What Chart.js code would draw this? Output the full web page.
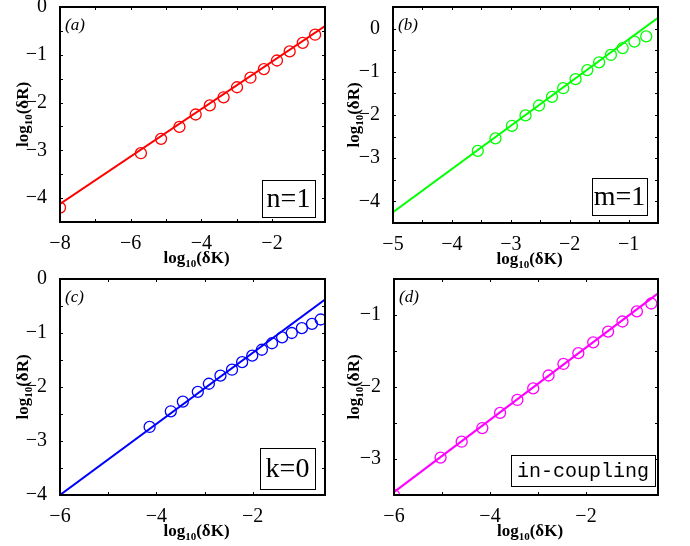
<!DOCTYPE html>
<html>
<head>
<meta charset="utf-8">
<script src="https://cdn.jsdelivr.net/npm/chart.js@4"></script>
<style>
  html, body { margin: 0; padding: 0; background: #fff; }
  #wrap { position: relative; width: 690px; height: 546px; overflow: hidden; }
  .panel { position: absolute; width: 345px; height: 290px; }
</style>
</head>
<body>
<div id="wrap">
  <div class="panel" style="left:0;top:-17px"><canvas id="chartA"></canvas></div>
  <div class="panel" style="left:345px;top:-17px"><canvas id="chartB"></canvas></div>
  <div class="panel" style="left:0;top:256px"><canvas id="chartC"></canvas></div>
  <div class="panel" style="left:345px;top:256px"><canvas id="chartD"></canvas></div>
</div>
<script>
// --- Du lieu doc tu hinh (log10 dK, log10 dR) ---
// (a) n=1
const aX = [-8.0, -5.71, -5.14, -4.62, -4.16, -3.76, -3.37, -2.99, -2.61, -2.23, -1.86, -1.50, -1.13, -0.78];
const aY = [-4.20, -3.06, -2.76, -2.51, -2.25, -2.06, -1.89, -1.68, -1.48, -1.30, -1.12, -0.93, -0.75, -0.58];
const aFitX = [-8.0, -0.5];
const aFitY = [-4.12, -0.40];

// (b) m=1
const bX = [-3.56, -3.26, -2.98, -2.75, -2.52, -2.30, -2.11, -1.90, -1.70, -1.50, -1.30, -1.10, -0.90, -0.70];
const bY = [-2.83, -2.54, -2.25, -2.01, -1.78, -1.58, -1.38, -1.17, -0.96, -0.78, -0.61, -0.45, -0.30, -0.18];
const bFitX = [-5.0, -0.5];
const bFitY = [-4.25, 0.25];

// (c) k=0
const cX = [-4.14, -3.70, -3.45, -3.14, -2.91, -2.67, -2.43, -2.22, -2.01, -1.81, -1.60, -1.39, -1.19, -0.98, -0.77, -0.59];
const cY = [-2.74, -2.45, -2.27, -2.09, -1.94, -1.79, -1.68, -1.54, -1.42, -1.31, -1.19, -1.08, -1.00, -0.91, -0.83, -0.75];
const cFitX = [-6.0, -0.5];
const cFitY = [-4.0, -0.38];

// (d) in-coupling
const dX = [-6.0, -5.03, -4.59, -4.16, -3.79, -3.43, -3.10, -2.78, -2.47, -2.16, -1.85, -1.54, -1.24, -0.94, -0.64];
const dY = [-3.50, -2.98, -2.76, -2.57, -2.36, -2.18, -2.02, -1.84, -1.68, -1.53, -1.38, -1.23, -1.09, -0.95, -0.84];
const dFitX = [-6.0, -0.5];
const dFitY = [-3.46, -0.70];

const SERIF = "'Liberation Serif', 'Times New Roman', serif";
const TOP_EXTRA = 17; // canvas cao hon de nhan "0" khong bi cat

function pts(xs, ys) {
    return xs.map(function (x, i) { return { x: x, y: ys[i] }; });
}

function minusLabel(v) {
    if (v === 0) return '0';
    return (v < 0 ? '\u2212' : '') + Math.abs(v);
}

// --- Plugin: khung, vach chia huong vao trong, chu thich ---
const framePlugin = {
    id: 'frame',
    afterDatasetsDraw: function (chart, args, o) {
        const ctx = chart.ctx;
        const a = chart.chartArea;
        ctx.save();
        // vach chia
        ctx.strokeStyle = '#000';
        ctx.lineWidth = 1;
        const tl = 3;
        chart.scales.x.ticks.forEach(function (t) {
            const px = Math.round(chart.scales.x.getPixelForValue(t.value)) + 0.5;
            if (px <= a.left + 2 || px >= a.right - 2) return;
            ctx.beginPath();
            ctx.moveTo(px, a.bottom); ctx.lineTo(px, a.bottom - tl);
            ctx.moveTo(px, a.top); ctx.lineTo(px, a.top + tl);
            ctx.stroke();
        });
        chart.scales.y.ticks.forEach(function (t) {
            const py = Math.round(chart.scales.y.getPixelForValue(t.value)) + 0.5;
            if (py <= a.top + 2 || py >= a.bottom - 2) return;
            ctx.beginPath();
            ctx.moveTo(a.left, py); ctx.lineTo(a.left + tl, py);
            ctx.moveTo(a.right, py); ctx.lineTo(a.right - tl, py);
            ctx.stroke();
        });
        // khung
        ctx.lineWidth = 2;
        ctx.strokeRect(a.left, a.top, a.right - a.left, a.bottom - a.top);

        // nhan (a), (b)...
        ctx.fillStyle = '#000';
        ctx.font = 'italic 17px ' + SERIF;
        ctx.textAlign = 'left';
        ctx.textBaseline = 'middle';
        ctx.fillText(o.tag, a.left + 5, a.top + 19);

        // hop chu thich
        const bx = a.right - o.boxRight - o.boxW;
        const by = a.bottom - o.boxBottom - o.boxH;
        ctx.fillStyle = '#fff';
        ctx.fillRect(bx, by, o.boxW, o.boxH);
        ctx.lineWidth = 1;
        ctx.strokeStyle = '#000';
        ctx.strokeRect(bx + 0.5, by + 0.5, o.boxW, o.boxH);
        ctx.fillStyle = '#000';
        ctx.font = o.boxFont;
        ctx.textAlign = 'center';
        ctx.textBaseline = 'middle';
        ctx.fillText(o.box, bx + o.boxW / 2, by + o.boxH / 2 + 1);

        // tieu de truc
        drawLogLabel(ctx, 'K', (a.left + a.right) / 2 + 4, a.bottom + 36, 0);
        drawLogLabel(ctx, 'R', o.yTitleX, (a.top + a.bottom) / 2, -Math.PI / 2);
        ctx.restore();
    }
};

function drawLogLabel(ctx, letter, cx, cy, rot) {
    const big = 'bold 17px ' + SERIF;
    const small = 'bold 11px ' + SERIF;
    const p1 = 'log', p2 = '10', p3 = '(\u03B4' + letter + ')';
    ctx.save();
    ctx.translate(cx, cy);
    ctx.rotate(rot);
    ctx.fillStyle = '#000';
    ctx.textBaseline = 'alphabetic';
    ctx.textAlign = 'left';
    ctx.font = big; const w1 = ctx.measureText(p1).width;
    ctx.font = small; const w2 = ctx.measureText(p2).width;
    ctx.font = big; const w3 = ctx.measureText(p3).width;
    let x = -(w1 + w2 + w3) / 2;
    const base = 5;
    ctx.font = big; ctx.fillText(p1, x, base); x += w1;
    ctx.font = small; ctx.fillText(p2, x, base + 4); x += w2;
    ctx.font = big; ctx.fillText(p3, x, base);
    ctx.restore();
}

function makePanel(id, cfg) {
    const color = cfg.color;
    new Chart(document.getElementById(id), {
        type: 'scatter',
        data: {
            datasets: [
                {
                    data: pts(cfg.fitX, cfg.fitY),
                    showLine: true,
                    borderColor: color,
                    borderWidth: 2,
                    pointRadius: 0,
                    clip: 0,
                },
                {
                    data: pts(cfg.x, cfg.y),
                    borderColor: color,
                    backgroundColor: 'rgba(0,0,0,0)',
                    borderWidth: 1.3,
                    pointRadius: 5.5,
                    clip: 0,
                }
            ]
        },
        options: {
            responsive: false,
            animation: false,
            events: [],
            layout: { padding: { top: cfg.padTop + TOP_EXTRA, right: cfg.padRight, left: 0, bottom: 0 } },
            plugins: {
                legend: { display: false },
                tooltip: { enabled: false },
                frame: cfg.frame
            },
            scales: {
                x: {
                    type: 'linear',
                    min: cfg.xMin, max: cfg.xMax,
                    grid: { display: false },
                    border: { display: false },
                    ticks: {
                        stepSize: cfg.xStep,
                        autoSkip: false,
                        maxRotation: 0,
                        padding: 2,
                        color: '#000',
                        font: { family: SERIF, size: 20 },
                        callback: function (v) {
                            return (Math.abs(v / cfg.xLabelStep - Math.round(v / cfg.xLabelStep)) < 1e-6) ? minusLabel(v) : '';
                        }
                    },
                    afterFit: function (s) {
                        s.height = cfg.xH;
                        s.paddingLeft = 0; s.paddingRight = 0;
                    }
                },
                y: {
                    type: 'linear',
                    min: cfg.yMin, max: cfg.yMax,
                    grid: { display: false },
                    border: { display: false },
                    ticks: {
                        stepSize: 0.5,
                        autoSkip: false,
                        padding: 5,
                        color: '#000',
                        font: { family: SERIF, size: 20 },
                        callback: function (v) {
                            return Number.isInteger(v) ? minusLabel(v) : '';
                        }
                    },
                    afterFit: function (s) {
                        s.width = cfg.yW;
                        s.paddingTop = 0; s.paddingBottom = 0;
                    }
                }
            }
        },
        plugins: [framePlugin]
    });
}

const canvasIds = ['chartA', 'chartB', 'chartC', 'chartD'];
canvasIds.forEach(function (id) {
    const c = document.getElementById(id);
    c.width = 345; c.height = 273 + TOP_EXTRA;
    c.style.width = '345px'; c.style.height = (273 + TOP_EXTRA) + 'px';
});

makePanel('chartA', {
    color: '#ff0000', x: aX, y: aY, fitX: aFitX, fitY: aFitY,
    xMin: -8, xMax: -0.5, xStep: 1, xLabelStep: 2,
    yMin: -4.5, yMax: 0,
    yW: 60, xH: 51, padTop: 7, padRight: 20,
    frame: { tag: '(a)', box: 'n=1', boxFont: '28px ' + SERIF, boxW: 53, boxH: 37, boxRight: 10, boxBottom: 5, yTitleX: 23 }
});
makePanel('chartB', {
    color: '#00ff00', x: bX, y: bY, fitX: bFitX, fitY: bFitY,
    xMin: -5, xMax: -0.5, xStep: 0.5, xLabelStep: 1,
    yMin: -4.5, yMax: 0.5,
    yW: 48, xH: 50, padTop: 7, padRight: 32,
    frame: { tag: '(b)', box: 'm=1', boxFont: '28px ' + SERIF, boxW: 55, boxH: 37, boxRight: 11, boxBottom: 8, yTitleX: 9 }
});
makePanel('chartC', {
    color: '#0000ff', x: cX, y: cY, fitX: cFitX, fitY: cFitY,
    xMin: -6, xMax: -0.5, xStep: 1, xLabelStep: 2,
    yMin: -4, yMax: 0,
    yW: 60, xH: 51, padTop: 6, padRight: 20,
    frame: { tag: '(c)', box: 'k=0', boxFont: '28px ' + SERIF, boxW: 55, boxH: 41, boxRight: 10, boxBottom: 6, yTitleX: 23 }
});
makePanel('chartD', {
    color: '#ff00ff', x: dX, y: dY, fitX: dFitX, fitY: dFitY,
    xMin: -6, xMax: -0.5, xStep: 1, xLabelStep: 2,
    yMin: -3.5, yMax: -0.5,
    yW: 49, xH: 51, padTop: 6, padRight: 32,
    frame: { tag: '(d)', box: 'in-coupling', boxFont: '20px "Liberation Mono", monospace', boxW: 144, boxH: 31, boxRight: 3, boxBottom: 9, yTitleX: 9 }
});
</script>
</body>
</html>
